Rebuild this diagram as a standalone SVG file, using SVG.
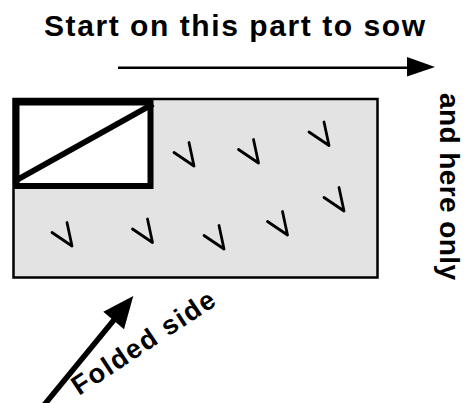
<svg xmlns="http://www.w3.org/2000/svg" width="468" height="403" viewBox="0 0 468 403">
<style>
.t{font-family:"Liberation Sans",Arial,sans-serif;font-weight:bold;fill:#000}
.v{fill:none;stroke:#000;stroke-width:2.8;stroke-linecap:round;stroke-linejoin:round}
</style>
<defs>
<path id="vm" class="v" d="M-20,-13.5 L0,0 L-5,-23.5"/>
</defs>
<rect width="468" height="403" fill="#fff"/>
<g id="title"><text class="t" x="44" y="36" font-size="30" textLength="381" lengthAdjust="spacing">Start on this part to sow</text></g>
<g id="bed">
<rect x="13.5" y="99" width="364" height="178.5" fill="#e3e3e3" stroke="#000" stroke-width="2.5"/>
</g>
<g id="start-box">
<rect x="16.5" y="102.5" width="134" height="83.5" fill="#fff" stroke="#000" stroke-width="6"/>
<line x1="15" y1="181" x2="153" y2="104" stroke="#000" stroke-width="6"/>
</g>
<g id="seeds">
<use href="#vm" x="194" y="166"/>
<use href="#vm" x="258.5" y="163"/>
<use href="#vm" x="329" y="145.5"/>
<use href="#vm" x="72" y="246"/>
<use href="#vm" x="152.5" y="242.5"/>
<use href="#vm" x="224" y="249"/>
<use href="#vm" x="287.5" y="235"/>
<use href="#vm" x="344" y="211"/>
</g>
<g id="connectors">
<line x1="40" y1="410" x2="118" y2="315" stroke="#000" stroke-width="5.5"/>
<polygon points="133.3,296 103.3,311.7 124,329.3" fill="#000"/>
<line x1="118" y1="67.8" x2="409" y2="67.8" stroke="#000" stroke-width="2.5"/>
<polygon points="407,57 435,67 407,76.5" fill="#000"/>
</g>
<g id="side-label"><text class="t" transform="translate(440,93) rotate(90)" font-size="28" textLength="187" lengthAdjust="spacing">and here only</text></g>
<g id="fold-label"><text class="t" transform="translate(79,396) rotate(-33.5)" font-size="27" textLength="166" lengthAdjust="spacing">Folded side</text></g>
</svg>
